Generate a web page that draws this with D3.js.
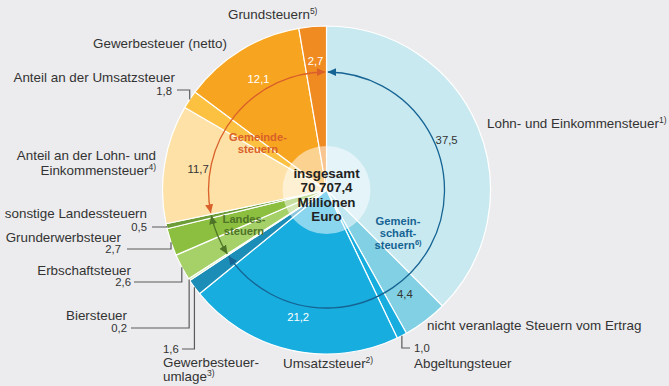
<!DOCTYPE html>
<html>
<head>
<meta charset="utf-8">
<script src="https://cdn.jsdelivr.net/npm/d3@7"></script>
<style>
  html, body { margin: 0; padding: 0; background: #ececee; }
  svg { display: block; font-family: "Liberation Sans", Arial, Helvetica, sans-serif; }
</style>
</head>
<body>
<svg id="chart" width="669" height="386"></svg>
<script>
// ---- Data: shares of total tax revenue (percent), clockwise from 12 o'clock ----
const categories = [
  "Lohn- und Einkommensteuer",
  "nicht veranlagte Steuern vom Ertrag",
  "Abgeltungsteuer",
  "Umsatzsteuer",
  "Gewerbesteuerumlage",
  "Biersteuer",
  "Erbschaftsteuer",
  "Grunderwerbsteuer",
  "sonstige Landessteuern",
  "Anteil an der Lohn- und Einkommensteuer",
  "Anteil an der Umsatzsteuer",
  "Gewerbesteuer (netto)",
  "Grundsteuern"
];
const shares = [37.5, 4.4, 1.0, 21.2, 1.6, 0.2, 2.6, 2.7, 0.5, 11.7, 1.8, 12.1, 2.7];
const groupOf = [
  "Gemeinschaftsteuern", "Gemeinschaftsteuern", "Gemeinschaftsteuern", "Gemeinschaftsteuern", "Gemeinschaftsteuern",
  "Landessteuern", "Landessteuern", "Landessteuern", "Landessteuern",
  "Gemeindesteuern", "Gemeindesteuern", "Gemeindesteuern", "Gemeindesteuern"
];
const groupNames = ["Gemeinschaftsteuern", "Landessteuern", "Gemeindesteuern"];
const totalLines = ["insgesamt", "70 707,4", "Millionen", "Euro"];

// ---- Styles ----
const sliceColors = [
  "#c9e9f1", "#82d0e3", "#17addf", "#17addf", "#1b8db7",
  "#cfe6a6", "#a6d068", "#8cbf3f", "#6d9d37",
  "#fde1a6", "#fdc142", "#f7a520", "#f08b22"
];
const groupColors = { Gemeinschaftsteuern: "#166493", Landessteuern: "#4e7428", Gemeindesteuern: "#d9602a" };
const textColor = "#333333";

const cx = 326.5, cy = 190, R = 164, rInner = 44, rArrow = 118, rValue = 130;

const svg = d3.select("#chart");
const g = svg.append("g").attr("transform", `translate(${cx},${cy})`);

const deFormat = d3.formatLocale({ decimal: ",", thousands: " ", grouping: [3], currency: ["", " €"] }).format(".1f");

const data = categories.map((c, i) => ({ name: c, value: shares[i], group: groupOf[i], i }));
const pie = d3.pie().value(d => d.value).sort(null);
const arcs = pie(data);
const arcGen = d3.arc().innerRadius(0).outerRadius(R);
const labelArc = d3.arc().innerRadius(rValue).outerRadius(rValue);

// ---- Slices ----
g.selectAll("path.slice")
  .data(arcs)
  .join("path")
  .attr("class", "slice")
  .attr("d", arcGen)
  .attr("fill", d => sliceColors[d.index])
  .attr("stroke", "#ffffff")
  .attr("stroke-width", 1.2)
  .attr("stroke-linejoin", "round");

// translucent centre disc
g.append("circle").attr("r", rInner).attr("fill", "#ffffff").attr("fill-opacity", 0.5);

// ---- Group arrows (arcs with arrowheads at both ends) ----
const defs = svg.append("defs");
groupNames.forEach(name => {
  defs.append("marker")
    .attr("id", "head-" + name)
    .attr("viewBox", "0 0 9 8")
    .attr("refX", 8.5).attr("refY", 4)
    .attr("markerWidth", 9).attr("markerHeight", 8)
    .attr("markerUnits", "userSpaceOnUse")
    .attr("orient", "auto-start-reverse")
    .append("path")
    .attr("d", "M0,0 L9,4 L0,8 Z")
    .attr("fill", groupColors[name]);
});

const deg = Math.PI / 180;
const groupSpans = groupNames.map(name => {
  const members = arcs.filter(a => a.data.group === name);
  return { name, a0: d3.min(members, a => a.startAngle), a1: d3.max(members, a => a.endAngle) };
});
groupSpans.forEach(s => {
  const p = d3.path();
  const start = s.a0 + 0.7 * deg, end = s.a1 - 0.7 * deg;
  // pie angles are measured from 12 o'clock; d3.path from 3 o'clock
  p.arc(0, 0, rArrow, start - Math.PI / 2, end - Math.PI / 2, false);
  g.append("path")
    .attr("d", p.toString())
    .attr("fill", "none")
    .attr("stroke", groupColors[s.name])
    .attr("stroke-width", 1.3)
    .attr("marker-start", `url(#head-${s.name})`)
    .attr("marker-end", `url(#head-${s.name})`);
});

// ---- Values inside slices ----
const insideValue = { 0: textColor, 1: textColor, 3: "#ffffff", 9: textColor, 11: "#ffffff", 12: "#ffffff" };
g.selectAll("text.value")
  .data(arcs.filter(a => insideValue[a.index] !== undefined))
  .join("text")
  .attr("class", "value")
  .attr("transform", d => `translate(${labelArc.centroid(d)})`)
  .attr("text-anchor", "middle")
  .attr("dy", "0.36em")
  .attr("font-size", 11.3)
  .attr("fill", d => insideValue[d.index])
  .text(d => deFormat(d.value));

// ---- Category names and outside values with leader lines ----
// name: lines of [text, superscript], anchor, x, y of first baseline, gap between lines
// val: position of the outside value, lead: start of its leader line
const layout = [
  { name: [["Lohn- und Einkommensteuer", "1)"]], anchor: "start", x: 487, y: 128 },
  { name: [["nicht veranlagte Steuern vom Ertrag", ""]], anchor: "start", x: 427, y: 330 },
  { name: [["Abgeltungsteuer", ""]], anchor: "start", x: 414, y: 368,
    val: { anchor: "start", x: 414, y: 352 }, lead: [410, 348] },
  { name: [["Umsatzsteuer", "2)"]], anchor: "start", x: 283, y: 368 },
  { name: [["Gewerbesteuer-", ""], ["umlage", "3)"]], anchor: "start", x: 163, y: 367, gap: 13.5,
    val: { anchor: "start", x: 163, y: 353 }, lead: [182, 349] },
  { name: [["Biersteuer", ""]], anchor: "end", x: 127, y: 320,
    val: { anchor: "end", x: 127, y: 332 }, lead: [131, 328] },
  { name: [["Erbschaftsteuer", ""]], anchor: "end", x: 131, y: 275,
    val: { anchor: "end", x: 131, y: 286 }, lead: [134, 282] },
  { name: [["Grunderwerbsteuer", ""]], anchor: "end", x: 121, y: 242,
    val: { anchor: "end", x: 121, y: 253 }, lead: [127, 249] },
  { name: [["sonstige Landessteuern", ""]], anchor: "end", x: 147, y: 218,
    val: { anchor: "end", x: 147, y: 231 }, lead: [152, 227] },
  { name: [["Anteil an der Lohn- und", ""], ["Einkommensteuer", "4)"]], anchor: "end", x: 156, y: 160, gap: 15 },
  { name: [["Anteil an der Umsatzsteuer", ""]], anchor: "end", x: 175, y: 82,
    val: { anchor: "end", x: 172, y: 95 }, lead: [177, 90] },
  { name: [["Gewerbesteuer (netto)", ""]], anchor: "end", x: 227, y: 48 },
  { name: [["Grundsteuern", "5)"]], anchor: "start", x: 228, y: 19 }
];

const labels = svg.append("g").attr("fill", textColor);
const edgeArc = d3.arc().innerRadius(R).outerRadius(R);

layout.forEach((L, i) => {
  L.name.forEach((line, k) => {
    const t = labels.append("text")
      .attr("x", L.x).attr("y", L.y + k * (L.gap || 13.5))
      .attr("text-anchor", L.anchor)
      .attr("font-size", 13.4);
    t.append("tspan").text(line[0]);
    if (line[1]) {
      t.append("tspan").attr("font-size", 8.5).attr("dy", -5).text(line[1]);
    }
  });
  if (L.val) {
    labels.append("text")
      .attr("x", L.val.x).attr("y", L.val.y)
      .attr("text-anchor", L.val.anchor)
      .attr("font-size", 11.3)
      .text(deFormat(shares[i]));
    const [ex, ey] = edgeArc.centroid(arcs[i]);
    const px = cx + ex, py = cy + ey;
    labels.append("path")
      .attr("d", d3.line()([[L.lead[0], L.lead[1]], [px, L.lead[1]], [px, py]]))
      .attr("fill", "none")
      .attr("stroke", "#5a5a5a")
      .attr("stroke-width", 1.2);
  }
});

// ---- Group captions ----
const groupCaptions = [
  { name: "Gemeindesteuern", lines: [["Gemeinde-", ""], ["steuern", ""]], x: 258, y: 141 },
  { name: "Landessteuern", lines: [["Landes-", ""], ["steuern", ""]], x: 244, y: 223 },
  { name: "Gemeinschaftsteuern", lines: [["Gemein-", ""], ["schaft-", ""], ["steuern", "6)"]], x: 398, y: 225 }
];
groupCaptions.forEach(c => {
  c.lines.forEach((line, k) => {
    const t = svg.append("text")
      .attr("x", c.x).attr("y", c.y + k * 12)
      .attr("text-anchor", "middle")
      .attr("font-size", 11.2)
      .attr("font-weight", "bold")
      .attr("fill", groupColors[c.name]);
    t.append("tspan").text(line[0]);
    if (line[1]) t.append("tspan").attr("font-size", 7.5).attr("dy", -4).text(line[1]);
  });
});

// ---- Total in the centre ----
svg.append("g")
  .selectAll("text")
  .data(totalLines)
  .join("text")
  .attr("x", cx).attr("y", (d, k) => 178 + k * 14.4)
  .attr("text-anchor", "middle")
  .attr("font-size", 13.4)
  .attr("font-weight", "bold")
  .attr("fill", "#222222")
  .text(d => d);
</script>
</body>
</html>
